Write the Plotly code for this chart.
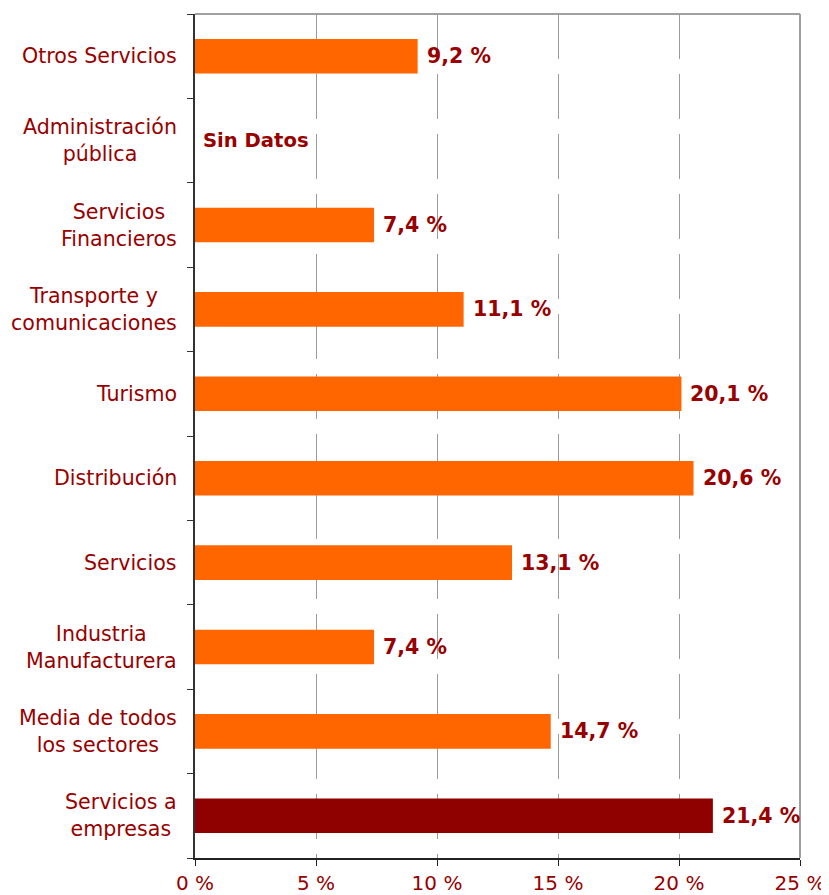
import plotly.graph_objects as go

categories = [
    "Servicios a<br>empresas",
    "Media de todos<br>los sectores",
    "Industria<br>Manufacturera",
    "Servicios",
    "Distribución",
    "Turismo",
    "Transporte y<br>comunicaciones",
    "Servicios<br>Financieros",
    "Administración<br>pública",
    "Otros Servicios",
]
values = [21.4, 14.7, 7.4, 13.1, 20.6, 20.1, 11.1, 7.4, None, 9.2]
bar_colors = ["#8F0000"] + ["#FF6600"] * 9
missing_label = "Sin Datos"
x_ticks = [0, 5, 10, 15, 20, 25]
x_tick_labels = ["0 %", "5 %", "10 %", "15 %", "20 %", "25 %"]

TXT = "#990000"
FONT = "DejaVu Sans, Verdana, sans-serif"

fig = go.Figure()
fig.add_trace(go.Bar(
    y=categories,
    x=[v if v is not None else 0 for v in values],
    orientation="h",
    marker=dict(color=bar_colors, line=dict(width=0)),
    hoverinfo="skip",
))

annotations = []
for cat, v in zip(categories, values):
    annotations.append(dict(
        xref="paper", yref="y", x=0, y=cat, text=cat, showarrow=False,
        xanchor="right", yanchor="middle", align="center", xshift=-16,
        font=dict(family=FONT, size=20.6, color=TXT),
    ))
    if v is None:
        annotations.append(dict(
            xref="x", yref="y", x=0, y=cat, text="<b>%s</b>" % missing_label,
            showarrow=False, xanchor="left", yanchor="middle", xshift=6,
            font=dict(family=FONT, size=19.6, color=TXT),
        ))
    else:
        annotations.append(dict(
            xref="x", yref="y", x=v, y=cat,
            text="<b>%s %%</b>" % ("%.1f" % v).replace(".", ","),
            showarrow=False, xanchor="left", yanchor="middle", xshift=7,
            font=dict(family=FONT, size=20.5, color=TXT),
        ))

fig.update_layout(
    width=821, height=887,
    margin=dict(l=187, r=29, t=6, b=37, autoexpand=False),
    paper_bgcolor="white", plot_bgcolor="white",
    showlegend=False,
    bargap=0.59,
    annotations=annotations,
    shapes=[
        dict(type="line", xref="paper", yref="paper", x0=0, x1=1, y0=1, y1=1,
             line=dict(color="#A0A0A0", width=2), layer="above"),
        dict(type="line", xref="paper", yref="paper", x0=1, x1=1, y0=0, y1=1,
             line=dict(color="#A0A0A0", width=2), layer="above"),
    ],
    xaxis=dict(
        range=[0, 25], tickvals=x_ticks, ticktext=x_tick_labels,
        showgrid=True, gridcolor="#9A9A9A", gridwidth=1, griddash="45px,15px",
        zeroline=False, showline=True, linecolor="#222222", linewidth=1.5,
        ticks="outside", ticklen=6, tickcolor="#222222",
        tickfont=dict(family=FONT, size=20, color=TXT),
        automargin=False, fixedrange=True,
    ),
    yaxis=dict(
        type="category", categoryorder="array", categoryarray=categories,
        showticklabels=False, showgrid=False, zeroline=False,
        showline=True, linecolor="#333333", linewidth=2,
        ticks="outside", tickson="boundaries", ticklen=6, tickcolor="#333333",
        automargin=False, fixedrange=True,
    ),
)

fig.write_html("out.html")
